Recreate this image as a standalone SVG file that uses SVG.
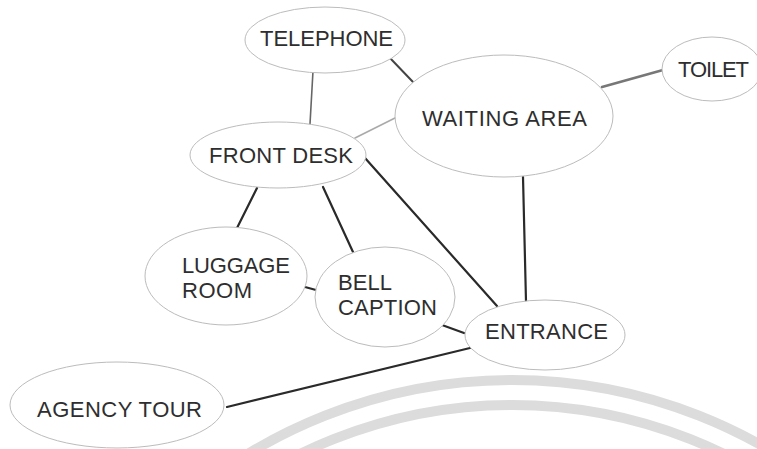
<svg xmlns="http://www.w3.org/2000/svg" width="757" height="449" viewBox="0 0 757 449">
<style>
.node ellipse{fill:#fff;stroke:#bcbcbc;stroke-width:1}
.node text{font-family:"Liberation Sans",Arial,Helvetica,sans-serif;font-size:22px;fill:#2e2e2e}
.edges line{stroke:#2a2a2a;stroke-width:2.2;stroke-linecap:round}
.wm{fill:none;stroke:#dcdcdc;stroke-width:10}
</style>
<rect width="757" height="449" fill="#fff"/>
<circle class="wm" cx="512" cy="888" r="508"/>
<circle class="wm" cx="512" cy="888" r="483"/>
<g id="connectors" class="edges">
<line x1="313" y1="71" x2="310" y2="124" style="stroke:#666;stroke-width:1.6"/>
<line x1="390" y1="58" x2="413" y2="82" style="stroke:#444;stroke-width:2"/>
<line x1="355" y1="138" x2="397" y2="117" style="stroke:#aaa;stroke-width:1.6"/>
<line x1="602" y1="87" x2="663" y2="70" style="stroke:#777;stroke-width:2.6"/>
<line x1="365" y1="158" x2="497" y2="306"/>
<line x1="523" y1="177" x2="526" y2="301"/>
<line x1="257" y1="188" x2="237" y2="228"/>
<line x1="323" y1="187" x2="353" y2="252"/>
<line x1="305" y1="287" x2="316" y2="290"/>
<line x1="442" y1="325" x2="464" y2="333"/>
<line x1="227" y1="407" x2="470" y2="348"/>
</g>
<g id="telephone" class="node"><ellipse cx="325" cy="40" rx="80" ry="33"/><text x="260" y="46" textLength="133" lengthAdjust="spacing">TELEPHONE</text></g>
<g id="waiting-area" class="node"><ellipse cx="504" cy="116" rx="109" ry="61"/><text x="422" y="126" textLength="165" lengthAdjust="spacing">WAITING AREA</text></g>
<g id="toilet" class="node"><ellipse cx="712" cy="69" rx="50" ry="32"/><text x="678" y="77" textLength="71" lengthAdjust="spacing">TOILET</text></g>
<g id="front-desk" class="node"><ellipse cx="278" cy="155" rx="88" ry="33"/><text x="209" y="163" textLength="144" lengthAdjust="spacing">FRONT DESK</text></g>
<g id="luggage-room" class="node"><ellipse cx="226" cy="276" rx="81" ry="49"/><text x="182" y="273" textLength="108" lengthAdjust="spacing">LUGGAGE</text><text x="182" y="298" textLength="70" lengthAdjust="spacing">ROOM</text></g>
<g id="bell-caption" class="node"><ellipse cx="385" cy="297" rx="70" ry="50"/><text x="338" y="290" textLength="54" lengthAdjust="spacing">BELL</text><text x="338" y="315" textLength="99" lengthAdjust="spacing">CAPTION</text></g>
<g id="entrance" class="node"><ellipse cx="545" cy="335" rx="80" ry="35"/><text x="485" y="339" textLength="123" lengthAdjust="spacing">ENTRANCE</text></g>
<g id="agency-tour" class="node"><ellipse cx="117" cy="405" rx="107" ry="43"/><text x="37" y="417" textLength="165" lengthAdjust="spacing">AGENCY TOUR</text></g>
</svg>
